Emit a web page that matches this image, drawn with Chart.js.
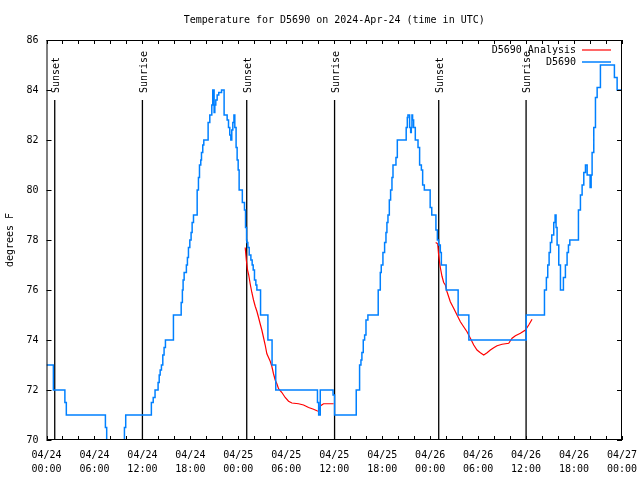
<!DOCTYPE html>
<html lang="en">
<head>
<meta charset="UTF-8">
<title>Temperature for D5690</title>
<script src="https://cdn.jsdelivr.net/npm/chart.js"></script>
<style>
  body { margin: 0; background: #fff; }
</style>
</head>
<body>
<canvas id="tempChart" width="640" height="480"></canvas>
<script>
// time axis is in hours since 2024-04-24 00:00 UTC
const titleText = 'Temperature for D5690 on 2024-Apr-24 (time in UTC)';
const dayLabels = ['04/24', '04/25', '04/26', '04/27'];
const hourLabels = ['00:00', '06:00', '12:00', '18:00'];

const sunTimes = [1.03, 12.0, 25.05, 36.04, 49.07, 60.0];
const sunNames = ['Sunset', 'Sunrise', 'Sunset', 'Sunrise', 'Sunset', 'Sunrise'];
const sunLineTop = 83.6;

// observed D5690 temperature (deg F), value changes
const obsTimes = [
  0, 0.86, 2.3, 2.48, 7.37, 7.53, 7.7, 7.9,
  9.45, 9.6, 9.75, 9.91,
  13.12, 13.35, 13.58, 13.96, 14.1, 14.22, 14.38, 14.55, 14.71, 14.88,
  15.88, 16.85, 17.0, 17.09, 17.22, 17.5, 17.63, 17.76, 17.93, 18.09, 18.22, 18.39,
  18.85, 19.01, 19.14, 19.3, 19.39, 19.55, 19.68,
  20.22, 20.43, 20.68, 20.8, 20.97, 21.06, 21.18, 21.35, 21.55, 21.9, 22.22,
  22.6, 22.77, 22.93, 23.06, 23.18, 23.31, 23.45, 23.56, 23.72, 23.85, 23.98, 24.1,
  24.5, 24.77, 24.9, 25.03, 25.07, 25.19, 25.36, 25.57, 25.73, 25.86, 26.02, 26.19, 26.32,
  26.78, 27.7, 28.22, 28.68, 33.9, 34.05, 34.25, 35.85, 36.04,
  38.75, 39.17, 39.34, 39.46, 39.63, 39.8, 39.97, 40.21, 41.5, 41.76, 41.88, 42.09,
  42.3, 42.47, 42.59, 42.72, 42.89, 43.05, 43.22, 43.35, 43.72, 43.89,
  45.0, 45.14, 45.22, 45.43, 45.56, 45.64, 45.72, 45.8, 45.93, 46.14, 46.48, 46.68,
  46.9, 47.06, 47.27, 48.0, 48.2, 48.72, 48.9, 49.06, 49.27, 49.4, 50.0, 51.5, 52.84,
  60.02, 62.3, 62.54, 62.71, 62.88, 63.04, 63.21, 63.46, 63.63, 63.75, 63.88, 64.09, 64.3,
  64.67, 64.92, 65.13, 65.3, 65.47, 66.55, 66.8, 67.01, 67.22, 67.43, 67.64, 68.01,
  68.14, 68.26, 68.47, 68.68, 68.89, 69.3, 71.05, 71.39, 72
];
const obsTemps = [
  73, 72, 71.5, 71, 70.5, 70, 69.5, 69,
  69.5, 70, 70.5, 71,
  71.5, 71.7, 72, 72.3, 72.6, 72.8, 73, 73.4, 73.7, 74,
  75, 75.5, 76, 76.4, 76.7, 77, 77.3, 77.7, 78, 78.3, 78.7, 79,
  80, 80.5, 81, 81.2, 81.5, 81.8, 82,
  82.7, 83, 83.4, 84, 83.1, 83.4, 83.6, 83.8, 83.9, 84, 83,
  82.8, 82.5, 82.2, 82, 82.4, 82.7, 83, 82.5, 81.7, 81.2, 80.8, 80,
  79.5, 79.2, 78.5, 78, 77.9, 77.7, 77.4, 77.2, 77, 76.8, 76.4, 76.2, 76,
  75, 74, 73, 72, 71.5, 71, 72, 71.8, 71,
  72, 73, 73.2, 73.5, 74, 74.2, 74.8, 75, 76, 76.7, 77, 77.5,
  77.9, 78.3, 78.7, 79, 79.6, 80, 80.5, 81, 81.3, 82,
  82.5, 82.9, 83, 82.5, 82.3, 82.5, 83, 82.8, 82.5, 82, 81.7, 81,
  80.8, 80.2, 80, 79.3, 79, 78.4, 78, 77.8, 77.5, 77, 76, 75, 74,
  75, 76, 76.5, 77, 77.5, 77.9, 78.2, 78.7, 79, 78.5, 77.8, 77, 76,
  76.5, 77, 77.5, 77.8, 78, 79.2, 79.8, 80.2, 80.7, 81, 80.6, 80.1,
  80.6, 81.5, 82.5, 83.7, 84.1, 85, 84.5, 84, 84
];

// D5690 analysis (deg F), two night segments
const anaTimes = [
  24.86, 25.0, 25.15, 25.3, 25.48, 25.69, 25.9, 26.11, 26.32, 26.53, 26.73, 26.94,
  27.15, 27.36, 27.57, 27.99, 28.19, 28.4, 28.61, 28.82, 29.03, 29.45, 29.86, 30.28,
  30.7, 31.53, 32.16, 32.79, 33.41, 33.83, 34.05, 34.25, 34.66, 35.92,
  42,
  48.69, 48.94, 49.06, 49.27, 49.48, 49.69, 49.9, 50.11, 50.52, 50.94, 51.36, 51.78,
  52.19, 52.61, 53.03, 53.45, 53.86, 54.28, 54.7, 55.12, 55.53, 55.95, 56.37, 57.0,
  57.83, 58.25, 58.66, 59.29, 59.92, 60.33, 60.75
];
const anaTemps = [
  77.7, 77.2, 76.8, 76.6, 76.25, 75.9, 75.6, 75.35, 75.15, 74.9, 74.65, 74.4,
  74.1, 73.8, 73.45, 73.15, 72.95, 72.65, 72.4, 72.25, 72.05, 71.9, 71.7, 71.55,
  71.48, 71.45, 71.4, 71.3, 71.23, 71.17, 71.15, 71.36, 71.45, 71.45,
  null,
  77.9, 77.85, 77.4, 76.9, 76.55, 76.3, 76.2, 75.93, 75.53, 75.27, 75.0, 74.73,
  74.53, 74.33, 74.07, 73.8, 73.6, 73.49, 73.4, 73.49, 73.6, 73.69, 73.77, 73.83,
  73.87, 74.07, 74.17, 74.27, 74.4, 74.6, 74.83
];

const FONT = '"DejaVu Sans Mono", monospace';

const gnuplotLook = {
    id: 'gnuplotLook',
    beforeDatasetsDraw(chart) {
        const {ctx, chartArea: a, scales: {x, y}} = chart;
        ctx.save();
        ctx.strokeStyle = '#000';
        ctx.fillStyle = '#000';
        ctx.lineWidth = 1.3;
        ctx.font = '10px ' + FONT;
        const top = y.getPixelForValue(sunLineTop);
        sunTimes.forEach((t, i) => {
            const px = x.getPixelForValue(t);
            ctx.beginPath();
            ctx.moveTo(px, top);
            ctx.lineTo(px, a.bottom);
            ctx.stroke();
            ctx.save();
            ctx.translate(px + 1.5, top - 7);
            ctx.rotate(-Math.PI / 2);
            ctx.textAlign = 'left';
            ctx.textBaseline = 'middle';
            ctx.fillText(sunNames[i], 0, 0);
            ctx.restore();
        });
        ctx.restore();
    },
    afterDraw(chart) {
        const {ctx, chartArea: a, scales: {x, y}} = chart;
        ctx.save();
        ctx.fillStyle = '#000';
        ctx.font = '10px ' + FONT;
        ctx.textAlign = 'center';
        ctx.textBaseline = 'middle';
        ctx.fillText(titleText, (a.left + a.right) / 2, 20);

        ctx.strokeStyle = '#000';
        ctx.lineWidth = 1;
        ctx.strokeRect(a.left + 0.5, a.top + 0.5, a.right - a.left - 1, a.bottom - a.top - 1);
        ctx.beginPath();
        x.ticks.forEach(t => {
            const px = Math.round(x.getPixelForValue(t.value)) + 0.5;
            ctx.moveTo(px, a.bottom); ctx.lineTo(px, a.bottom - 4);
            ctx.moveTo(px, a.top); ctx.lineTo(px, a.top + 4);
        });
        y.ticks.forEach(t => {
            const py = Math.round(y.getPixelForValue(t.value)) + 0.5;
            ctx.moveTo(a.left, py); ctx.lineTo(a.left + 5, py);
            ctx.moveTo(a.right, py); ctx.lineTo(a.right - 5, py);
        });
        ctx.stroke();

        // gnuplot style key, top right
        const order = [1, 0];
        ctx.textAlign = 'right';
        order.forEach((di, row) => {
            const ds = chart.data.datasets[di];
            const ly = a.top + 10 + row * 12;
            ctx.fillStyle = '#000';
            ctx.fillText(ds.label, a.right - 46, ly);
            ctx.strokeStyle = ds.borderColor;
            ctx.lineWidth = ds.borderWidth;
            ctx.beginPath();
            ctx.moveTo(a.right - 40, ly);
            ctx.lineTo(a.right - 11, ly);
            ctx.stroke();
        });
        ctx.restore();
    }
};

new Chart(document.getElementById('tempChart'), {
    type: 'line',
    data: {
        datasets: [{
            label: 'D5690',
            data: obsTimes.map((t, i) => ({x: t, y: obsTemps[i]})),
            borderColor: 'rgb(0, 128, 255)',
            borderWidth: 1.5,
            stepped: 'before',
            pointRadius: 0,
            fill: false
        }, {
            label: 'D5690 Analysis',
            data: anaTimes.map((t, i) => ({x: t, y: anaTemps[i]})),
            borderColor: 'rgb(255, 0, 0)',
            borderWidth: 1.2,
            pointRadius: 0,
            fill: false,
            spanGaps: false
        }]
    },
    options: {
        responsive: false,
        animation: false,
        devicePixelRatio: 1,
        layout: { padding: { left: 0, right: 18, top: 40, bottom: 0 } },
        plugins: {
            legend: { display: false },
            tooltip: { enabled: false },
            title: { display: false }
        },
        scales: {
            x: {
                type: 'linear',
                min: 0,
                max: 72,
                grid: { display: false, drawTicks: true, tickLength: 9 },
                border: { display: false },
                afterFit(scale) { scale.height = 40; },
                ticks: {
                    stepSize: 2,
                    autoSkip: false,
                    maxRotation: 0,
                    padding: 0,
                    color: '#000',
                    font: { family: FONT, size: 10, lineHeight: 1.35 },
                    callback(v) {
                        const h = Math.round(v);
                        if (h % 6 !== 0) return '';
                        return [dayLabels[Math.floor(h / 24)], hourLabels[(h % 24) / 6]];
                    }
                }
            },
            y: {
                min: 70,
                max: 86,
                grid: { display: false, drawTicks: true, tickLength: 8 },
                border: { display: false },
                afterFit(scale) { scale.width = 46.5; },
                title: {
                    display: true,
                    text: 'degrees F',
                    color: '#000',
                    font: { family: FONT, size: 10 },
                    padding: { top: 4, bottom: 4 }
                },
                ticks: {
                    stepSize: 2,
                    padding: 0,
                    color: '#000',
                    font: { family: FONT, size: 10 }
                }
            }
        }
    },
    plugins: [gnuplotLook]
});
</script>
</body>
</html>
